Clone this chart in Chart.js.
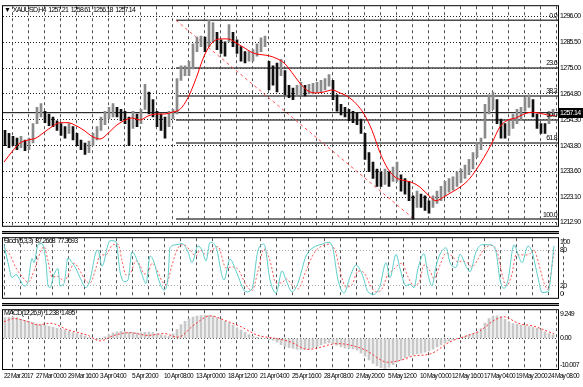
<!DOCTYPE html>
<html>
<head>
<meta charset="utf-8">
<script src="https://cdn.jsdelivr.net/npm/chart.js@4.4.1/dist/chart.umd.min.js"></script>
<style>
  html, body { margin: 0; padding: 0; background: #fff; }
  #wrap { position: relative; width: 583px; height: 387px; overflow: hidden;
          font-family: 'Liberation Sans', sans-serif; }
  canvas { position: absolute; left: 0; }
  .lbl { position: absolute; left: 4px; font-size: 7px; letter-spacing: -0.8px; word-spacing: 1.5px;
         color: #000; white-space: nowrap; }
  .sep { position: absolute; left: 2px; width: 557px; height: 1px; background: #9a9a9a;
         border-top: 1px solid #000; border-bottom: 1px solid #000; }
</style>
</head>
<body>
<div id="wrap">
  <canvas id="mainChart" width="583" height="232" style="top:0"></canvas>
  <canvas id="stochChart" width="583" height="72" style="top:232px"></canvas>
  <canvas id="macdChart" width="583" height="83" style="top:304px"></canvas>
  <div class="sep" style="top:231px"></div>
  <div class="sep" style="top:303px"></div>
  <div class="lbl" style="top:6px">▼ XAUUSD,H4 1257.21 1258.61 1256.18 1257.14</div>
  <div class="lbl" style="top:237px">Stoch(5,3,3) 87.2668 77.3693</div>
  <div class="lbl" style="top:309px">MACD(12,26,9) 1.238 1.495</div>
</div>
<script>
// axis labels
const timeLabels = ['22 Mar 2017', '27 Mar 00:00', '29 Mar 16:00', '3 Apr 04:00', '5 Apr 20:00',
  '10 Apr 08:00', '13 Apr 00:00', '18 Apr 12:00', '21 Apr 04:00', '25 Apr 16:00', '28 Apr 08:00',
  '2 May 20:00', '5 May 12:00', '10 May 00:00', '12 May 16:00', '17 May 04:00', '19 May 20:00', '24 May 08:00'];
const priceTicks = [1296.00, 1285.50, 1275.00, 1264.80, 1254.30, 1243.80, 1233.60, 1223.10, 1212.90];
const stochTicks = [100, 80, 20, 0];
const macdTicks = [9.249, 0, -10.007];
const macdTickText = ['9.249', '0.00', '-10.007'];

// price bars, one entry per two H4 bars
const candleHigh = [
  1250.0, 1248.8, 1247.6, 1246.9, 1247.6, 1246.1, 1246.9, 1252.7, 1259.3, 1260.8,
  1257.7, 1256.6, 1255.4, 1253.9, 1252.7, 1251.5, 1252.7, 1251.5, 1248.8, 1246.1,
  1244.9, 1245.7, 1248.8, 1251.5, 1255.4, 1257.7, 1259.3, 1260.8, 1259.3, 1258.5,
  1257.7, 1255.4, 1257.7, 1256.6, 1258.5, 1268.6, 1265.5, 1262.4, 1257.7, 1256.6,
  1255.4, 1257.7, 1258.5, 1270.9, 1276.0, 1276.0, 1277.9, 1284.9, 1287.6, 1288.0,
  1287.6, 1294.4, 1293.5, 1289.6, 1286.5, 1285.7, 1292.7, 1289.6, 1286.5, 1283.8,
  1281.8, 1281.8, 1282.6, 1284.9, 1287.3, 1288.0, 1277.9, 1276.0, 1277.2, 1278.7,
  1274.1, 1268.2, 1267.1, 1268.2, 1269.4, 1268.2, 1268.6, 1269.0, 1269.4, 1270.2,
  1270.9, 1272.5, 1270.2, 1264.3, 1260.5, 1259.3, 1258.5, 1257.7, 1256.9, 1254.6,
  1248.8, 1241.0, 1237.2, 1234.4, 1233.3, 1234.4, 1233.3, 1235.2, 1237.2, 1232.1,
  1230.6, 1229.4, 1223.6, 1225.5, 1224.3, 1223.6, 1221.6, 1223.6, 1225.5, 1227.4,
  1229.4, 1230.6, 1231.3, 1233.3, 1234.4, 1236.0, 1238.3, 1241.0, 1244.9, 1246.9,
  1260.5, 1264.3, 1265.5, 1262.4, 1254.6, 1252.7, 1253.9, 1256.6, 1258.5, 1259.3,
  1263.2, 1264.3, 1262.4, 1256.6, 1252.7, 1252.7, 1257.7, 1258.5
];
const candleLow = [
  1243.8, 1243.0, 1243.8, 1242.2, 1243.0, 1241.8, 1242.2, 1244.9, 1252.7, 1255.4,
  1253.1, 1251.9, 1251.5, 1250.0, 1248.0, 1246.9, 1248.8, 1246.1, 1243.8, 1242.2,
  1240.3, 1241.0, 1243.8, 1246.1, 1250.0, 1252.3, 1254.6, 1255.4, 1255.4, 1253.9,
  1252.7, 1243.8, 1250.8, 1251.5, 1252.7, 1258.5, 1256.6, 1255.4, 1251.5, 1250.0,
  1246.9, 1251.5, 1254.6, 1256.6, 1270.2, 1272.1, 1272.1, 1274.8, 1281.8, 1283.8,
  1281.8, 1283.8, 1285.7, 1282.6, 1281.0, 1279.9, 1285.7, 1283.8, 1281.0, 1277.9,
  1277.2, 1277.9, 1277.9, 1279.9, 1281.8, 1283.8, 1266.3, 1268.2, 1265.5, 1272.1,
  1264.3, 1263.2, 1262.4, 1263.6, 1264.3, 1263.9, 1264.7, 1264.7, 1265.5, 1265.5,
  1266.3, 1267.8, 1262.4, 1257.7, 1256.2, 1255.4, 1253.9, 1253.1, 1252.3, 1248.8,
  1238.3, 1233.3, 1230.6, 1227.4, 1227.4, 1228.2, 1227.4, 1229.4, 1229.4, 1225.5,
  1224.3, 1221.6, 1214.2, 1218.9, 1218.9, 1217.7, 1216.6, 1218.9, 1220.5, 1221.6,
  1223.6, 1225.1, 1225.9, 1227.4, 1229.0, 1230.6, 1232.1, 1234.4, 1239.1, 1242.2,
  1246.9, 1256.6, 1258.5, 1252.7, 1246.9, 1246.9, 1248.0, 1250.8, 1252.7, 1253.9,
  1257.7, 1259.3, 1255.4, 1250.8, 1248.8, 1248.8, 1252.7, 1256.2
];
// moving average, one value every 4 bars
const maValues = [
  1237.2, 1241.4, 1244.9, 1246.1, 1246.9, 1249.2, 1251.5, 1253.1, 1253.1, 1251.9,
  1250.0, 1247.6, 1246.5, 1248.8, 1251.9, 1253.9, 1255.0, 1254.2, 1255.8, 1256.6,
  1256.6, 1257.3, 1258.5, 1263.2, 1270.9, 1279.9, 1285.3, 1286.9, 1286.9, 1285.3,
  1283.4, 1281.4, 1280.6, 1280.2, 1279.1, 1277.2, 1273.3, 1269.0, 1265.9, 1265.1,
  1265.5, 1266.3, 1265.1, 1263.6, 1260.8, 1256.6, 1250.0, 1241.0, 1234.4, 1230.9,
  1229.8, 1229.0, 1227.1, 1224.0, 1221.6, 1223.2, 1225.1, 1227.1, 1229.8, 1234.0,
  1239.1, 1244.9, 1251.5, 1254.2, 1255.0, 1256.6, 1257.3, 1256.9, 1256.2, 1255.8
];
const lastPrice = 1257.14;
// fibonacci retracement
const fibNames = ['0.0', '23.6', '38.2', '50.0', '61.8', '100.0'];
const fibPrices = [1294.4, 1275.2, 1263.9, 1254.2, 1244.9, 1214.2];
const fibStartBar = 86;
const fibEndBar = 205;

// stochastic
const stochKBar = [0, 2, 4, 6, 8, 10, 12, 14, 15, 17, 19, 21, 22, 23, 25, 27, 28, 30, 32, 34,
  36, 38, 41, 43, 46, 47, 49, 52, 53, 56, 58, 60, 62, 64, 67, 69, 71, 73, 75, 77,
  80, 82, 83, 86, 89, 92, 94, 97, 99, 101, 103, 106, 110, 113, 116, 121, 124, 127, 130, 133,
  136, 139, 141, 144, 147, 151, 155, 159, 162, 164, 167, 170, 173, 176, 179, 182, 185, 188, 191, 193,
  196, 198, 201, 203, 205, 207, 210, 212, 214, 216, 218, 221, 223, 226, 228, 231, 233, 236, 239, 243,
  246, 248, 250, 252, 255, 257, 259, 262, 264, 267, 269, 272, 275];
const stochK = [89, 59, 34, 39, 30, 20, 27, 66, 59, 89, 91, 59, 20, 17, 39, 49, 20, 24, 67, 59,
  49, 34, 17, 30, 77, 80, 53, 89, 96, 94, 44, 27, 30, 77, 59, 39, 24, 70, 60, 34,
  13, 34, 84, 89, 91, 77, 59, 87, 80, 62, 93, 85, 30, 65, 45, 10, 15, 80, 90, 30,
  8, 45, 30, 10, 25, 70, 85, 90, 93, 88, 30, 8, 35, 55, 40, 10, 6, 20, 59, 34,
  73, 49, 20, 23, 17, 49, 74, 39, 20, 53, 73, 84, 59, 51, 73, 53, 44, 77, 89, 89,
  77, 30, 16, 30, 89, 73, 59, 87, 77, 34, 9, 10, 87];
const stochDBar = [0, 3, 6, 9, 12, 15, 18, 20, 22, 24, 27, 30, 33, 35, 38, 41, 43, 46, 48, 51,
  54, 57, 59, 61, 63, 66, 68, 70, 72, 74, 76, 79, 81, 84, 87, 90, 93, 96, 98, 101,
  104, 107, 111, 114, 117, 121, 124, 127, 130, 133, 136, 139, 141, 144, 147, 151, 155, 159, 163, 166,
  168, 171, 174, 177, 180, 183, 186, 189, 192, 194, 197, 199, 202, 205, 208, 210, 213, 215, 218, 221,
  224, 227, 229, 232, 234, 237, 240, 244, 247, 249, 251, 254, 256, 259, 262, 265, 267, 270, 272, 273, 275];
const stochD = [85, 72, 50, 36, 26, 45, 75, 86, 62, 35, 36, 28, 45, 58, 45, 28, 25, 50, 72, 72,
  88, 90, 62, 38, 40, 62, 55, 40, 42, 58, 50, 28, 22, 55, 84, 89, 80, 70, 80, 72,
  80, 86, 50, 52, 48, 22, 12, 45, 82, 62, 25, 25, 32, 22, 15, 45, 75, 87, 90, 75,
  45, 18, 22, 45, 42, 22, 10, 15, 40, 45, 55, 58, 35, 20, 30, 55, 45, 32, 55, 75,
  70, 60, 62, 58, 52, 65, 82, 88, 72, 40, 20, 40, 72, 72, 72, 80, 62, 25, 14, 30, 77];

// MACD histogram, one value every two bars; signal line points
const macdHist = [
  6.8, 6.9, 7.0, 6.8, 6.3, 5.9, 5.6, 5.2, 4.8, 4.5, 4.3, 4.0, 3.6, 3.3, 3.0, 2.8, 2.3, 1.9, 1.6, 1.3,
  0.8, 0.3, -0.2, -0.4, -0.2, 0.5, 1.2, 1.8, 2.2, 2.3, 2.2, 2.0, 1.9, 1.8, 1.8, 2.0, 2.1, 1.9, 1.6, 1.2,
  0.9, 0.8, 1.5, 3.0, 4.5, 5.6, 6.4, 7.0, 7.3, 7.5, 7.6, 7.5, 7.3, 6.8, 6.2, 5.6, 5.0, 4.4, 3.5, 2.8,
  2.0, 1.3, 0.7, 0.4, 0.2, 0.0, -0.3, -0.6, -1.2, -2.0, -2.6, -3.0, -3.3, -3.5, -3.6, -3.6, -3.4, -3.1, -2.6, -2.0,
  -1.6, -1.5, -1.7, -2.2, -2.8, -3.2, -3.3, -3.4, -3.8, -4.8, -5.8, -7.0, -8.2, -9.0, -9.6, -9.8, -9.4, -8.6, -7.8, -7.0,
  -6.4, -5.8, -5.3, -5.0, -4.8, -4.5, -4.1, -3.5, -2.8, -2.1, -1.5, -0.9, -0.4, 0.0, 0.4, 0.8, 1.2, 1.5, 2.0, 3.2,
  5.0, 6.5, 7.3, 7.4, 7.1, 6.3, 5.5, 4.9, 4.6, 4.4, 4.2, 3.9, 3.6, 3.3, 2.8, 2.2, 1.6, 1.2
];
const signalBar = [0, 5, 12, 17, 23, 32, 42, 48, 55, 63, 72, 80, 87, 95, 103, 112, 118, 127, 135, 143,
  152, 167, 180, 192, 198, 205, 213, 223, 232, 238, 245, 250, 257, 265, 270, 275];
const signalValues = [5.5, 6.5, 5.5, 4.4, 5.0, 2.8, 1.0, -0.8, 1.0, 1.9, 1.0, 1.6, 0.4, 4.4, 7.4, 5.5, 4.0, 1.0, 0.1, -1.1,
  -3.6, -1.7, -3.6, -7.8, -7.2, -5.7, -5.1, -1.1, 1.0, 2.5, 5.9, 7.1, 5.0, 4.0, 2.8, 1.5];

const FONT = "'Liberation Sans', sans-serif";
const X_MIN = -0.5, X_MAX = 277;
const gridBars = timeLabels.flatMap((_, k) => [16 * k, 16 * k + 8]);
const pts = (xs, ys) => xs.map((x, i) => ({ x: x, y: ys[i] }));

function xAxis(withLabels) {
  return {
    type: 'linear', min: X_MIN, max: X_MAX, offset: false,
    afterBuildTicks: s => { s.ticks = gridBars.map(v => ({ value: v })); },
    afterFit: s => { s.height = withLabels ? 18 : 0; },
    grid: { color: '#555', drawTicks: false, borderDash: [3, 3] },
    border: { display: false, dash: [3, 3] },
    ticks: withLabels ? {
      display: true, autoSkip: false, maxRotation: 0, minRotation: 0, align: 'start', padding: 3,
      color: '#000', font: { family: FONT, size: 6.5 },
      callback: v => (v % 16 === 0 ? timeLabels[v / 16] : '')
    } : { display: false }
  };
}

function yAxis(min, max, ticks, text, gridColor) {
  return {
    position: 'right', min: min, max: max,
    afterBuildTicks: s => { s.ticks = ticks.map(v => ({ value: v })); },
    afterFit: s => { s.width = 25; },
    grid: { color: gridColor, drawTicks: false, borderDash: [1, 2] },
    border: { display: false, dash: [1, 2] },
    ticks: { autoSkip: false, padding: 2, color: '#000', font: { family: FONT, size: 7 },
             callback: (v, i) => text[i] }
  };
}

// MT4 text is narrow: tighten the letters of every text drawn on the canvas
const narrowText = {
  id: 'narrowText',
  beforeDraw(chart) { chart.ctx.letterSpacing = '-0.7px'; }
};

// black frame round each panel
const frame = {
  id: 'frame',
  afterDraw(chart) {
    const { ctx, chartArea: a } = chart;
    ctx.save();
    ctx.strokeStyle = '#000';
    ctx.lineWidth = 1;
    ctx.strokeRect(a.left - 0.5, a.top - 0.5, a.right - a.left + 1, a.bottom - a.top + 1);
    ctx.restore();
  }
};

// keep top / bottom axis labels inside the panel, like MT4 does
const edgeLabels = {
  id: 'edgeLabels',
  beforeDraw(chart) {
    const s = chart.scales.y;
    s.getLabelItems().forEach(it => {
      const y = it.options.translation[1];
      if (y <= s.top + 1) it.options.textBaseline = 'top';
      else if (y >= s.bottom - 1) it.options.textBaseline = 'bottom';
    });
  }
};

// fib level names and the current price box
const mainMarks = {
  id: 'mainMarks',
  afterDraw(chart) {
    const { ctx, chartArea: a, scales: { y } } = chart;
    ctx.save();
    ctx.font = '7px ' + FONT;
    ctx.fillStyle = '#000';
    ctx.textAlign = 'right';
    ctx.textBaseline = 'bottom';
    fibPrices.forEach((p, i) => ctx.fillText(fibNames[i], a.right - 1, y.getPixelForValue(p) - 1));
    const py = Math.round(y.getPixelForValue(lastPrice));
    ctx.fillRect(a.right, py - 5, chart.width - a.right, 10);
    ctx.fillStyle = '#fff';
    ctx.textAlign = 'left';
    ctx.textBaseline = 'middle';
    ctx.fillText(lastPrice.toFixed(2), a.right + 2, py);
    ctx.restore();
  }
};

const base = {
  responsive: false, animation: false, devicePixelRatio: 1, events: [],
  plugins: { legend: { display: false }, tooltip: { enabled: false } }
};

// main price panel
const candleColors = candleHigh.map((h, j) =>
  j > 0 && h + candleLow[j] > candleHigh[j - 1] + candleLow[j - 1] ? '#8a8a8a' : '#111');

const fibSets = fibPrices.map(p => ({
  type: 'line', data: [{ x: fibStartBar, y: p }, { x: X_MAX, y: p }],
  borderColor: '#4a4a4a', borderWidth: 1.5, pointRadius: 0, order: 6
}));

new Chart(document.getElementById('mainChart'), {
  type: 'bar',
  data: {
    datasets: [
      ...fibSets,
      {
        type: 'line', data: [{ x: fibStartBar, y: fibPrices[0] }, { x: fibEndBar, y: fibPrices[5] }],
        borderColor: '#ff5050', borderWidth: 1, borderDash: [3, 3], pointRadius: 0, order: 5
      },
      {
        type: 'line', data: [{ x: X_MIN, y: lastPrice }, { x: X_MAX, y: lastPrice }],
        borderColor: '#000', borderWidth: 1, pointRadius: 0, order: 4
      },
      {
        type: 'bar', grouped: false, barThickness: 2,
        data: candleHigh.map((h, j) => ({ x: 2 * j + 0.5, y: [candleLow[j], h] })),
        backgroundColor: candleColors, borderWidth: 0, order: 3
      },
      {
        type: 'line', data: pts(maValues.map((_, k) => 4 * k), maValues),
        borderColor: '#ff0000', borderWidth: 1, pointRadius: 0, cubicInterpolationMode: 'monotone', order: 1
      }
    ]
  },
  options: {
    ...base,
    layout: { padding: { top: 3, bottom: 1, left: 3, right: 0 } },
    scales: {
      x: xAxis(false),
      y: yAxis(1211.5, 1300.1, priceTicks, priceTicks.map(v => v.toFixed(2)), '#222')
    }
  },
  plugins: [narrowText, frame, mainMarks]
});

// stochastic panel
new Chart(document.getElementById('stochChart'), {
  type: 'line',
  data: {
    datasets: [
      { data: pts(stochKBar, stochK), borderColor: '#5ccdc8', borderWidth: 1, pointRadius: 0,
        cubicInterpolationMode: 'monotone' },
      { data: pts(stochDBar, stochD), borderColor: '#ff5a5a', borderWidth: 1, borderDash: [2, 2],
        pointRadius: 0, cubicInterpolationMode: 'monotone' }
    ]
  },
  options: {
    ...base,
    layout: { padding: { top: 2, bottom: 1, left: 3, right: 0 } },
    scales: {
      x: xAxis(false),
      y: {
        ...yAxis(0, 100, stochTicks, stochTicks.map(String), '#aaa'),
        grid: { drawTicks: false, color: c => (c.tick && (c.tick.value === 80 || c.tick.value === 20) ? '#aaa' : 'rgba(0,0,0,0)') }
      }
    }
  },
  plugins: [narrowText, frame, edgeLabels]
});

// MACD panel
new Chart(document.getElementById('macdChart'), {
  type: 'bar',
  data: {
    datasets: [
      {
        type: 'line', data: pts(signalBar, signalValues), borderColor: '#ff3030', borderWidth: 1,
        borderDash: [2, 2], pointRadius: 0, cubicInterpolationMode: 'monotone', order: 1
      },
      {
        type: 'bar', grouped: false, barThickness: 2,
        data: macdHist.map((v, j) => ({ x: 2 * j + 0.5, y: v })),
        backgroundColor: '#c8c8c8', borderWidth: 0, order: 2
      }
    ]
  },
  options: {
    ...base,
    layout: { padding: { top: 2, bottom: 0, left: 3, right: 0 } },
    scales: {
      x: xAxis(true),
      y: {
        ...yAxis(-10.007, 9.249, macdTicks, macdTickText, '#444'),
        grid: { drawTicks: false, color: c => (c.tick && c.tick.value === 0 ? '#444' : 'rgba(0,0,0,0)') }
      }
    }
  },
  plugins: [narrowText, frame, edgeLabels]
});
</script>
</body>
</html>
